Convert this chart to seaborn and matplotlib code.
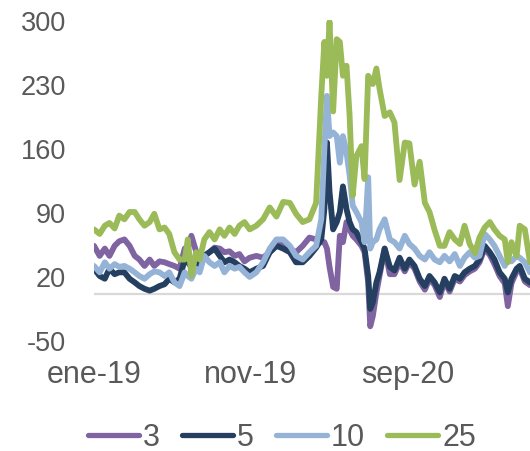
import matplotlib
matplotlib.use("Agg")
import matplotlib.pyplot as plt
from matplotlib.lines import Line2D
import numpy as np
import pandas as pd
import seaborn as sns

# ---------------- data ----------------
fechas = [
    # 2019
    "2019-01-01", "2019-01-12", "2019-01-22", "2019-01-31", "2019-02-10", "2019-02-19",
    "2019-03-01", "2019-03-11", "2019-03-21", "2019-03-30", "2019-04-09", "2019-04-19",
    "2019-04-28", "2019-05-08", "2019-05-18", "2019-05-27", "2019-06-06", "2019-06-16",
    "2019-06-26", "2019-07-02", "2019-07-09", "2019-07-18", "2019-07-25", "2019-08-03",
    "2019-08-13", "2019-08-23", "2019-09-02", "2019-09-11", "2019-09-21", "2019-10-01",
    "2019-10-10", "2019-10-20", "2019-10-30",
    "2019-11-12", "2019-11-25", "2019-12-08", "2019-12-21", "2020-01-03", "2020-01-16",
    "2020-01-28", "2020-02-10", "2020-02-23", "2020-03-07", "2020-03-17", "2020-03-23",
    "2020-03-28", "2020-04-02", "2020-04-09", "2020-04-16", "2020-04-22", "2020-04-28",
    "2020-05-05", "2020-05-11", "2020-05-17", "2020-05-24", "2020-06-03", "2020-06-09",
    "2020-06-16", "2020-06-20", "2020-06-25", "2020-07-02", "2020-07-08", "2020-07-18",
    "2020-07-28", "2020-08-06", "2020-08-16",
    "2020-08-26", "2020-09-04", "2020-09-14", "2020-09-24", "2020-10-04", "2020-10-13",
    "2020-10-23", "2020-11-02", "2020-11-11", "2020-11-21", "2020-12-01", "2020-12-11",
    "2020-12-20", "2020-12-30", "2021-01-09", "2021-01-18", "2021-01-28", "2021-02-07",
    "2021-02-16", "2021-02-26", "2021-03-08", "2021-03-14", "2021-03-21", "2021-03-31",
    "2021-04-06", "2021-04-16", "2021-04-26",
]

serie_3 = [
    53, 42, 50, 42, 53, 58, 60, 53, 42, 38, 31, 38, 31, 36, 35, 33, 31, 28, 50, 50,
    64, 47, 42, 42, 46, 51, 50, 46, 47, 42, 44, 36, 40,
    42, 40, 46, 53, 57, 50, 46, 53, 62, 60, 57, 57, 50, 30, 8, 6, 64, 57, 79, 71,
    64, 60, 53, 46, 13, -35, -24, 2, 20, 50, 22, 22, 35,
    25, 35, 28, 14, 5, 17, 10, -3, 14, 3, 17, 14, 21, 25, 28, 35, 50, 43, 33, 20,
    12, -13, 12, 25, 28, 14, 10,
]
serie_5 = [
    28, 20, 17, 28, 22, 24, 24, 17, 13, 9, 6, 4, 6, 9, 11, 17, 13, 17, 38, 35,
    30, 28, 35, 42, 46, 50, 42, 35, 38, 35, 31, 28, 24,
    28, 31, 46, 53, 50, 46, 35, 35, 42, 51, 60, 93, 166, 112, 71, 79, 90, 118, 93, 79,
    71, 68, 57, 50, 20, -16, -9, 13, 24, 50, 30, 26, 40,
    28, 38, 31, 17, 9, 20, 13, 2, 17, 6, 20, 17, 24, 28, 31, 38, 53, 46, 38, 24,
    17, 2, 17, 28, 31, 17, 13,
]
serie_10 = [
    31, 24, 35, 28, 33, 30, 31, 28, 24, 20, 17, 22, 25, 24, 20, 24, 13, 9, 24, 20,
    17, 28, 24, 42, 35, 31, 35, 24, 31, 28, 30, 24, 19,
    24, 35, 50, 60, 60, 53, 42, 38, 46, 53, 82, 159, 217, 173, 177, 173, 144, 173, 155, 130,
    97, 90, 79, 57, 128, 50, 57, 60, 71, 82, 60, 57, 50,
    64, 55, 50, 42, 38, 46, 38, 35, 42, 36, 44, 31, 40, 46, 40, 42, 66, 60, 53, 42,
    31, 38, 36, 42, 40, 35, 24,
]
serie_25 = [
    71, 66, 75, 78, 72, 86, 82, 90, 90, 82, 75, 79, 88, 71, 73, 66, 46, 38, 38, 60,
    20, 46, 38, 60, 68, 60, 71, 64, 73, 66, 75, 79, 71,
    75, 82, 95, 85, 101, 100, 88, 79, 82, 100, 217, 276, 239, 298, 200, 279, 276, 239, 250, 195,
    108, 151, 162, 126, 239, 235, 230, 247, 225, 195, 199, 188, 125,
    166, 165, 120, 145, 100, 90, 70, 53, 53, 68, 60, 55, 75, 55, 45, 62, 73, 79, 71, 64,
    60, 35, 57, 42, 75, 71, 35,
]

series_names = ["3", "5", "10", "25"]
series_colors = ["#8064A2", "#243F60", "#95B3D7", "#9BBB59"]

y_ticks = [-50, 20, 90, 160, 230, 300]
x_tick_dates = ["2019-01-01", "2019-11-01", "2020-09-01"]
x_tick_labels = ["ene-19", "nov-19", "sep-20"]

# ---------------- build frame ----------------
fechas_dt = pd.to_datetime(fechas)
frames = []
for name, vals in zip(series_names, [serie_3, serie_5, serie_10, serie_25]):
    frames.append(pd.DataFrame({"fecha": fechas_dt, "valor": vals, "serie": name}))
df = pd.concat(frames, ignore_index=True)

# ---------------- plot ----------------
sns.set_theme(style="white")
plt.rcParams["font.family"] = ["Liberation Sans", "DejaVu Sans"]
plt.rcParams["axes.unicode_minus"] = False

W, H = 530, 452
fig = plt.figure(figsize=(W / 100, H / 100), dpi=100)
ax = fig.add_axes([94 / W, 1 - 341 / H, 1 - 94 / W, 320 / H])

ax.axhline(0, color="#D9D9D9", lw=1.6, zorder=1)

palette = dict(zip(series_names, series_colors))
sns.lineplot(
    data=df, x="fecha", y="valor", hue="serie", hue_order=series_names,
    palette=palette, linewidth=4.2, ax=ax, legend=False, errorbar=None,
    estimator=None, sort=False,
    solid_joinstyle="round", solid_capstyle="round", zorder=3,
)

ax.set_ylim(-50, 300)
ax.set_yticks(y_ticks)
ax.set_yticklabels([str(v) for v in y_ticks])
ax.set_xlim(pd.Timestamp("2019-01-01"), pd.Timestamp(fechas[-1]))
ax.set_xticks(pd.to_datetime(x_tick_dates))
ax.set_xticklabels(x_tick_labels)
ax.set_xlabel("")
ax.set_ylabel("")

for s in ax.spines.values():
    s.set_visible(False)
ax.tick_params(axis="y", length=0, pad=20, labelsize=19.5, labelcolor="#595959")
ax.tick_params(axis="x", length=0, pad=14, labelsize=22, labelcolor="#595959")
ax.grid(False)

handles = [Line2D([0], [0], color=c, lw=3.8, solid_capstyle="round") for c in series_colors]
fig.legend(
    handles, series_names, loc="center", bbox_to_anchor=(0.532, 0.03),
    ncol=4, frameon=False, fontsize=22, labelcolor="#595959",
    handlelength=1.66, handletextpad=0.15, columnspacing=0.71, borderpad=0,
)

fig.savefig("out.png", dpi=100)
